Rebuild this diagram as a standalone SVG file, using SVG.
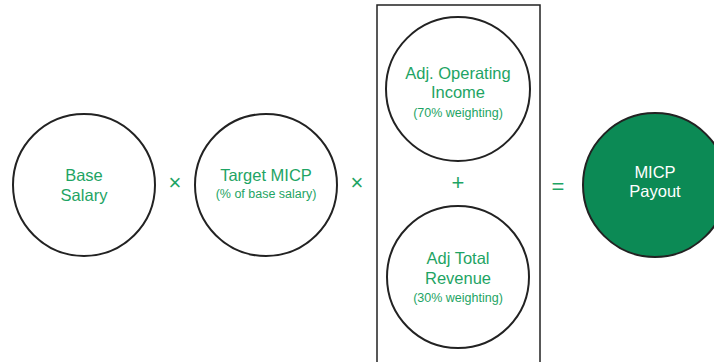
<svg xmlns="http://www.w3.org/2000/svg" width="714" height="362" viewBox="0 0 714 362">
<style>
.c{fill:#fff;stroke:#222;stroke-width:2}
.t{font-family:"Liberation Sans",Arial,sans-serif;fill:#1ea464;text-anchor:middle;font-size:16.5px}
.s{font-size:12.5px}
.op{font-family:"Liberation Sans",Arial,sans-serif;fill:#1ea464;text-anchor:middle;font-size:22px}
.w{fill:#fff}
</style>
<rect width="714" height="362" fill="#fff"/>
<g id="connectors">
<text class="op" x="175" y="190">×</text>
<text class="op" x="357" y="190">×</text>
<text class="op" x="458" y="190">+</text>
<text class="op" x="558" y="194">=</text>
</g>
<g id="group-box"><rect x="377" y="5" width="163" height="370" fill="none" stroke="#222" stroke-width="1.5"/></g>
<g id="base-salary"><circle class="c" cx="84" cy="185" r="71"/><text class="t" x="84" y="181">Base</text><text class="t" x="84" y="201">Salary</text></g>
<g id="target-micp"><circle class="c" cx="266" cy="185" r="71"/><text class="t" x="266" y="181">Target MICP</text><text class="t s" x="266" y="198">(% of base salary)</text></g>
<g id="adj-op-income"><circle class="c" cx="458" cy="89" r="72"/><text class="t" x="458" y="79">Adj. Operating</text><text class="t" x="458" y="98">Income</text><text class="t s" x="458" y="117">(70% weighting)</text></g>
<g id="adj-total-revenue"><circle class="c" cx="458" cy="277" r="71"/><text class="t" x="458" y="264">Adj Total</text><text class="t" x="458" y="284">Revenue</text><text class="t s" x="458" y="302">(30% weighting)</text></g>
<g id="micp-payout"><circle cx="655" cy="185" r="72" fill="#0c8a55" stroke="#222" stroke-width="2"/><text class="t w" x="655" y="178">MICP</text><text class="t w" x="655" y="197">Payout</text></g>
</svg>
